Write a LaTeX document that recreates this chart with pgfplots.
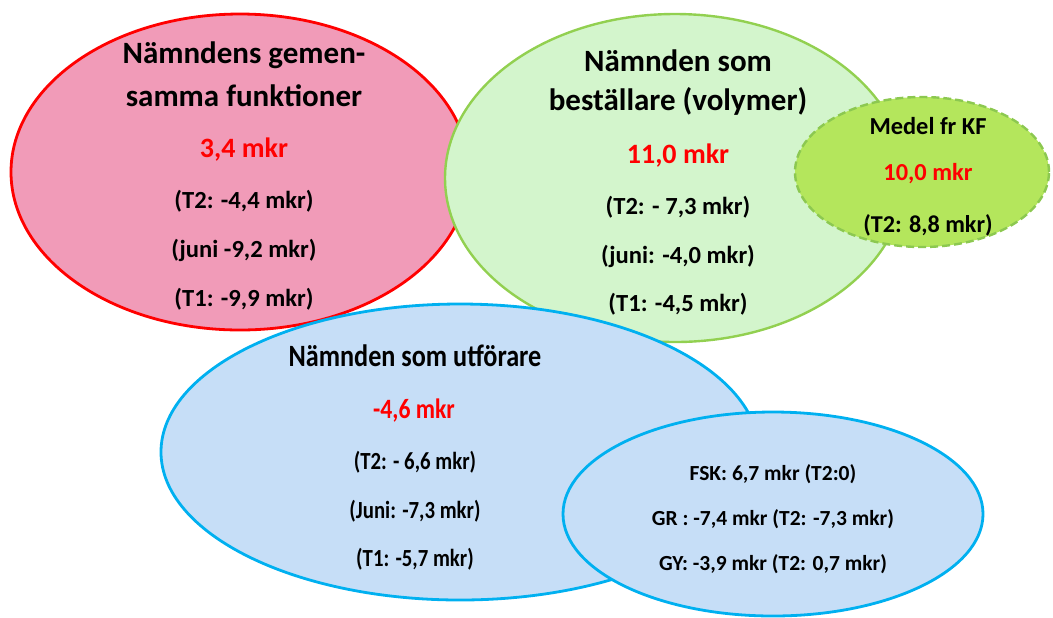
\documentclass[border=0pt]{standalone}
\usepackage{pgfplots}
\pgfplotsset{compat=1.18}
\usepackage{fontspec}
\setmainfont{Carlito}
\definecolor{pinkfill}{HTML}{F19BB8}
\definecolor{redline}{HTML}{FF0000}
\definecolor{greenfill}{HTML}{D3F5CC}
\definecolor{greenline}{HTML}{92D050}
\definecolor{kffill}{HTML}{B4E65C}
\definecolor{kfline}{HTML}{8CC850}
\definecolor{bluefill}{HTML}{C6DEF7}
\definecolor{blueline}{HTML}{00B0F0}
\definecolor{valred}{HTML}{FF0000}
\newcommand{\cz}[1]{\scalebox{0.845}[1]{#1}}
\begin{document}
\begin{tikzpicture}
\begin{axis}[
  width=526.5pt, height=308.5pt, scale only axis,
  xmin=0, xmax=1053, ymin=0, ymax=617, y dir=reverse,
  hide axis, clip=true,
  every node/.style={font=\bfseries, align=center, inner sep=0pt},
]
\coordinate (bl) at (rel axis cs:0,0);
\coordinate (tr) at (rel axis cs:1,1);
% ellipses (centre and radii in pixels; 1 px = 0.5 pt)
\draw[redline, line width=1.4pt, fill=pinkfill] (axis cs:240,172) ellipse [x radius=114.5pt, y radius=79pt];
\draw[greenline, line width=1.2pt, fill=greenfill] (axis cs:675,178) ellipse [x radius=115pt, y radius=82pt];
\draw[kfline, line width=1.2pt, dashed, dash pattern=on 4pt off 2pt, fill=kffill] (axis cs:922,172) ellipse [x radius=63.5pt, y radius=37.5pt];
\draw[blueline, line width=1.4pt, fill=bluefill] (axis cs:460,452) ellipse [x radius=149.5pt, y radius=74pt];
\draw[blueline, line width=1.4pt, fill=bluefill] (axis cs:773,514) ellipse [x radius=105pt, y radius=51pt];

% pink texts
\node[font=\fontsize{15.5}{16}\selectfont\bfseries] at (axis cs:244,55) {Nämndens gemen-};
\node[font=\fontsize{15.5}{16}\selectfont\bfseries] at (axis cs:244,96) {samma funktioner};
\node[font=\fontsize{14}{15}\selectfont\bfseries, text=valred] at (axis cs:244,150) {3,4 mkr};
\node[font=\fontsize{12.3}{13}\selectfont\bfseries] at (axis cs:244,201) {(T2: -4,4 mkr)};
\node[font=\fontsize{12.3}{13}\selectfont\bfseries] at (axis cs:244,250) {(juni -9,2 mkr)};
\node[font=\fontsize{12.3}{13}\selectfont\bfseries] at (axis cs:244,299) {(T1: -9,9 mkr)};

% green texts
\node[font=\fontsize{15.5}{16}\selectfont\bfseries] at (axis cs:678,61) {Nämnden som};
\node[font=\fontsize{15.5}{16}\selectfont\bfseries] at (axis cs:678,101) {beställare (volymer)};
\node[font=\fontsize{14}{15}\selectfont\bfseries, text=valred] at (axis cs:678,156) {11,0 mkr};
\node[font=\fontsize{12.3}{13}\selectfont\bfseries] at (axis cs:678,207) {(T2: - 7,3 mkr)};
\node[font=\fontsize{12.3}{13}\selectfont\bfseries] at (axis cs:678,256) {(juni: -4,0 mkr)};
\node[font=\fontsize{12.3}{13}\selectfont\bfseries] at (axis cs:678,304) {(T1: -4,5 mkr)};

% KF texts
\node[font=\fontsize{12.2}{13}\selectfont\bfseries] at (axis cs:928,126) {Medel fr KF};
\node[font=\fontsize{12.2}{13}\selectfont\bfseries, text=valred] at (axis cs:928,174) {10,0 mkr};
\node[font=\fontsize{12.1}{13}\selectfont\bfseries] at (axis cs:928,225) {(T2: 8,8 mkr)};

% blue big texts (horizontally condensed as in the original)
\node[font=\fontsize{15.5}{16}\selectfont\bfseries] at (axis cs:415,356) {\cz{Nämnden som utförare}};
\node[font=\fontsize{14}{15}\selectfont\bfseries, text=valred] at (axis cs:414,411) {\cz{-4,6 mkr}};
\node[font=\fontsize{12.3}{13}\selectfont\bfseries] at (axis cs:415,462) {\cz{(T2: - 6,6 mkr)}};
\node[font=\fontsize{12.3}{13}\selectfont\bfseries] at (axis cs:415,511) {\cz{(Juni: -7,3 mkr)}};
\node[font=\fontsize{12.3}{13}\selectfont\bfseries] at (axis cs:415,559) {\cz{(T1: -5,7 mkr)}};

% blue small texts
\node[font=\fontsize{10.75}{11}\selectfont\bfseries] at (axis cs:773,474) {FSK: 6,7 mkr (T2:0)};
\node[font=\fontsize{10.75}{11}\selectfont\bfseries] at (axis cs:773,519) {GR : -7,4 mkr (T2: -7,3 mkr)};
\node[font=\fontsize{10.75}{11}\selectfont\bfseries] at (axis cs:773,564) {GY: -3,9 mkr (T2: 0,7 mkr)};
\end{axis}
\pgfresetboundingbox
\useasboundingbox (bl) rectangle (tr);
\end{tikzpicture}
\end{document}
